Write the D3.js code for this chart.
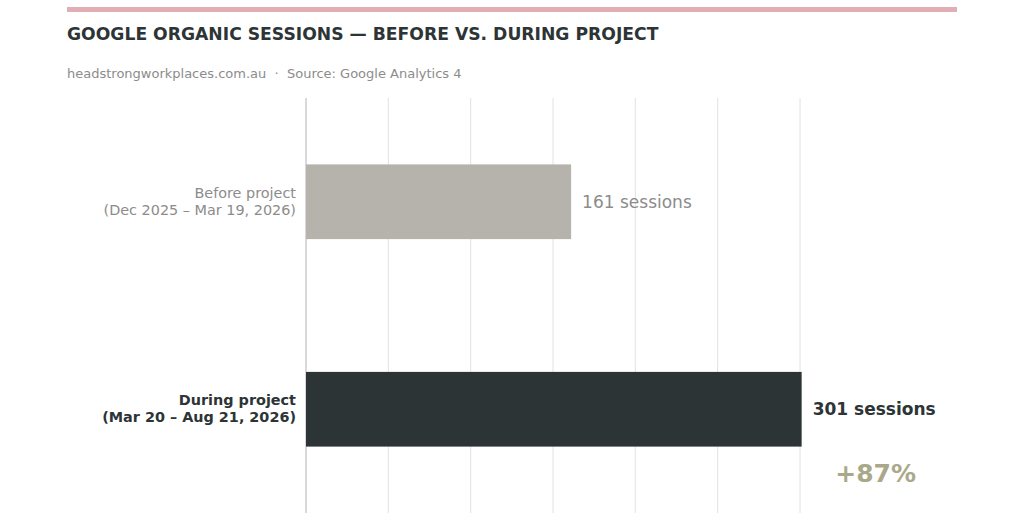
<!DOCTYPE html>
<html>
<head>
<meta charset="utf-8">
<script src="https://cdn.jsdelivr.net/npm/d3@7"></script>
<style>
  html, body { margin: 0; padding: 0; background: #fff; }
  svg { display: block; font-family: "DejaVu Sans", sans-serif; }
  text { white-space: pre; }
</style>
</head>
<body>
<svg id="chart" width="1024" height="523"></svg>
<script>
const categories = ["Before project", "During project"];
const periods = ["(Dec 2025 – Mar 19, 2026)", "(Mar 20 – Aug 21, 2026)"];
const sessions = [161, 301];
const valueLabels = ["161 sessions", "301 sessions"];
const xTicks = [0, 50, 100, 150, 200, 250, 300];
const changeLabel = "+87%";

(function () {
const svg = d3.select("#chart");
const plotLeft = 306, plotTop = 98, plotBottom = 513;

const x = d3.scaleLinear().domain([0, 300]).range([plotLeft, 800]);
const y = d3.scaleBand().domain(categories).range([plotTop, plotBottom]).paddingInner(0.64).paddingOuter(0.32);

// top accent bar
svg.append("rect").attr("x", 67).attr("y", 7).attr("width", 890).attr("height", 5).attr("fill", "#e2aeb6");

svg.append("text").attr("x", 67).attr("y", 40)
  .attr("font-size", 17.2).attr("font-weight", "bold").attr("fill", "#2d3436")
  .text("GOOGLE ORGANIC SESSIONS — BEFORE VS. DURING PROJECT");

svg.append("text").attr("x", 67).attr("y", 78)
  .attr("font-size", 13).attr("fill", "#8c8c8c")
  .text("headstrongworkplaces.com.au  ·  Source: Google Analytics 4");

// gridlines
svg.append("g").selectAll("line").data(xTicks.filter(d => d > 0)).join("line")
  .attr("x1", d => x(d)).attr("x2", d => x(d))
  .attr("y1", plotTop).attr("y2", plotBottom)
  .attr("stroke", "#e2e2e2").attr("stroke-width", 1);

// left spine
svg.append("line").attr("x1", x(0)).attr("x2", x(0)).attr("y1", plotTop).attr("y2", plotBottom)
  .attr("stroke", "#cccccc").attr("stroke-width", 1.5);

const barColors = ["#b5b3ab", "#2d3436"];
svg.append("g").selectAll("rect").data(categories).join("rect")
  .attr("x", x(0)).attr("y", d => y(d))
  .attr("width", (d, i) => x(sessions[i]) - x(0))
  .attr("height", y.bandwidth())
  .attr("fill", (d, i) => barColors[i]);

// category labels
const labelColors = ["#8c8c8c", "#2d3436"];
const labelWeights = ["normal", "bold"];
categories.forEach((c, i) => {
  const cy = y(c) + y.bandwidth() / 2;
  const t = svg.append("text").attr("text-anchor", "end")
    .attr("font-size", 14.4).attr("fill", labelColors[i]).attr("font-weight", labelWeights[i]);
  t.append("tspan").attr("x", 296).attr("y", cy - 4).text(c);
  t.append("tspan").attr("x", 296).attr("y", cy + 13).text(periods[i]);
});

// value labels
const valColors = ["#8c8c8c", "#2d3436"];
categories.forEach((c, i) => {
  svg.append("text").attr("x", x(sessions[i]) + 11).attr("y", y(c) + y.bandwidth() / 2 + 6)
    .attr("font-size", 17).attr("font-weight", labelWeights[i]).attr("fill", valColors[i])
    .text(valueLabels[i]);
});

// change label
svg.append("text").attr("x", x(sessions[1]) + 74).attr("y", 482)
  .attr("text-anchor", "middle").attr("font-size", 25).attr("font-weight", "bold")
  .attr("fill", "#a9a98a").text(changeLabel);
})();
</script>
</body>
</html>
